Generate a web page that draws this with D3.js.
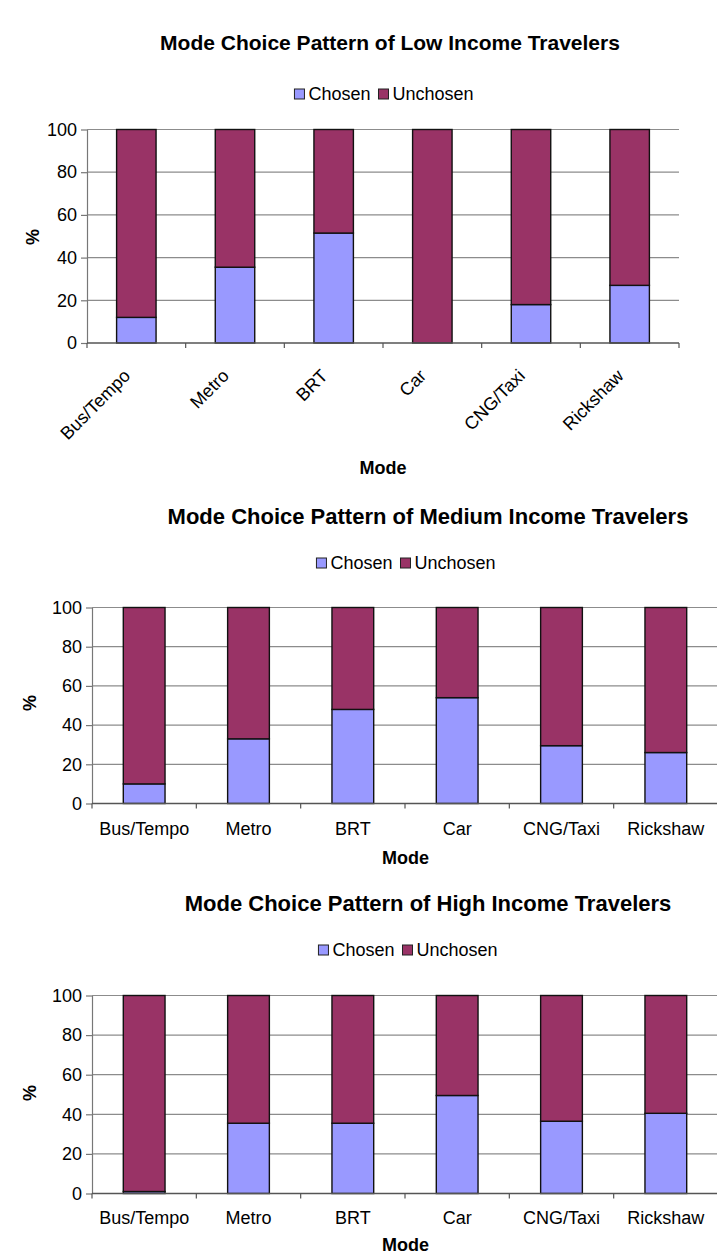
<!DOCTYPE html>
<html>
<head>
<meta charset="utf-8">
<script src="https://cdn.jsdelivr.net/npm/d3@7"></script>
<style>
  body { margin: 0; background: #fff; }
  text { font-family: "Liberation Sans", Arial, sans-serif; fill: #000; }
</style>
</head>
<body>
<svg id="charts"></svg>
<script>
// categories and values (percent of travelers)
const modes = ["Bus/Tempo", "Metro", "BRT", "Car", "CNG/Taxi", "Rickshaw"];
const seriesNames = ["Chosen", "Unchosen"];
const yTicks = [0, 20, 40, 60, 80, 100];

const lowChosen = [12, 35.5, 51.5, 0, 18, 27];
const lowUnchosen = [88, 64.5, 48.5, 100, 82, 73];
const mediumChosen = [10, 33, 48, 54, 29.5, 26];
const mediumUnchosen = [90, 67, 52, 46, 70.5, 74];
const highChosen = [1, 35.5, 35.5, 49.5, 36.5, 40.5];
const highUnchosen = [99, 64.5, 64.5, 50.5, 63.5, 59.5];

const titles = [
    "Mode Choice Pattern of Low Income Travelers",
    "Mode Choice Pattern of Medium Income Travelers",
    "Mode Choice Pattern of High Income Travelers"
];

const colors = { Chosen: "#9999ff", Unchosen: "#993366" };

const svg = d3.select("#charts")
    .attr("width", 717)
    .attr("height", 1258);

// layout of each of the three panels
const panels = [
    { title: titles[0], chosen: lowChosen, unchosen: lowUnchosen,
      left: 87, right: 679, top: 129.5, bottom: 343,
      titleX: 390, titleY: 43, titleSize: 21, legendX: 384, legendY: 94,
      rotate: true, modeY: 468, pctX: 33, pctY: 237 },
    { title: titles[1], chosen: mediumChosen, unchosen: mediumUnchosen,
      left: 92, right: 718, top: 607.5, bottom: 803.5,
      titleX: 428, titleY: 516, titleSize: 22, legendX: 406, legendY: 563,
      rotate: false, labelY: 829, modeY: 858, pctX: 30, pctY: 703 },
    { title: titles[2], chosen: highChosen, unchosen: highUnchosen,
      left: 92, right: 718, top: 995.5, bottom: 1193.5,
      titleX: 428, titleY: 903, titleSize: 22, legendX: 408, legendY: 950,
      rotate: false, labelY: 1218, modeY: 1245, pctX: 30, pctY: 1093 }
];

function drawPanel(p) {
    const g = svg.append("g");

    const x = d3.scaleBand()
        .domain(modes)
        .range([p.left, p.right])
        .paddingInner(0.6)
        .paddingOuter(0.3);

    const y = d3.scaleLinear()
        .domain([0, 100])
        .range([p.bottom, p.top]);

    // title
    g.append("text")
        .attr("x", p.titleX)
        .attr("y", p.titleY)
        .attr("dy", "0.35em")
        .attr("text-anchor", "middle")
        .style("font-weight", "bold")
        .style("font-size", p.titleSize + "px")
        .text(p.title);

    // legend, centered on legendX
    const leg = g.append("g");
    let cx = 0;
    seriesNames.forEach(name => {
        leg.append("rect")
            .attr("x", cx)
            .attr("y", -5)
            .attr("width", 10)
            .attr("height", 10)
            .attr("fill", colors[name])
            .attr("stroke", "#222")
            .attr("stroke-width", 1);
        const t = leg.append("text")
            .attr("x", cx + 14)
            .attr("y", 0)
            .attr("dy", "0.35em")
            .style("font-size", "18px")
            .text(name);
        cx += 14 + t.node().getComputedTextLength() + 8;
    });
    cx -= 8;
    leg.attr("transform", `translate(${p.legendX - cx / 2},${p.legendY})`);

    // grid lines
    g.append("g")
        .selectAll("line")
        .data(yTicks.filter(d => d > 0))
        .enter().append("line")
        .attr("x1", p.left)
        .attr("x2", p.right)
        .attr("y1", d => y(d))
        .attr("y2", d => y(d))
        .attr("stroke", "#8c8c8c")
        .attr("stroke-width", 1.2);

    // y axis
    const yAxis = g.append("g")
        .attr("transform", `translate(${p.left},0)`)
        .call(d3.axisLeft(y).tickValues(yTicks).tickSize(6).tickSizeOuter(0).tickPadding(4));
    yAxis.select(".domain").attr("stroke", "#777").attr("stroke-width", 1.2);
    yAxis.selectAll(".tick line").attr("stroke", "#777").attr("stroke-width", 1.2);
    yAxis.selectAll(".tick text")
        .style("font-size", "18px")
        .style("font-family", "'Liberation Sans', Arial, sans-serif")
        .attr("fill", "#000");

    // stacked bars
    const rows = modes.map((m, i) => ({ mode: m, Chosen: p.chosen[i], Unchosen: p.unchosen[i] }));
    const stacked = d3.stack().keys(seriesNames)(rows);

    g.append("g")
        .selectAll("g")
        .data(stacked)
        .enter().append("g")
        .attr("fill", d => colors[d.key])
        .selectAll("rect")
        .data(d => d.filter(s => s[1] - s[0] > 0))
        .enter().append("rect")
        .attr("x", d => x(d.data.mode))
        .attr("width", x.bandwidth())
        .attr("y", d => y(d[1]))
        .attr("height", d => y(d[0]) - y(d[1]))
        .attr("stroke", "#111")
        .attr("stroke-width", 1.4);

    // x axis line with ticks between categories
    g.append("line")
        .attr("x1", p.left)
        .attr("x2", p.right)
        .attr("y1", p.bottom)
        .attr("y2", p.bottom)
        .attr("stroke", "#555")
        .attr("stroke-width", 1.4);

    g.append("g")
        .selectAll("line")
        .data(d3.range(modes.length + 1))
        .enter().append("line")
        .attr("x1", i => p.left + i * x.step())
        .attr("x2", i => p.left + i * x.step())
        .attr("y1", p.bottom)
        .attr("y2", p.bottom + 5)
        .attr("stroke", "#555")
        .attr("stroke-width", 1.2);

    // category labels
    const labels = g.append("g")
        .selectAll("text")
        .data(modes)
        .enter().append("text")
        .style("font-size", "18px")
        .text(d => d);

    if (p.rotate) {
        labels
            .attr("text-anchor", "end")
            .attr("transform", d => `translate(${x(d) + x.bandwidth() / 2 - 5},${p.bottom + 34}) rotate(-45)`);
    } else {
        labels
            .attr("text-anchor", "middle")
            .attr("x", d => x(d) + x.bandwidth() / 2)
            .attr("y", p.labelY)
            .attr("dy", "0.35em");
    }

    // axis titles
    g.append("text")
        .attr("x", (p.left + Math.min(p.right, 717)) / 2 + (p.rotate ? 0 : 1))
        .attr("y", p.modeY)
        .attr("dy", "0.35em")
        .attr("text-anchor", "middle")
        .style("font-weight", "bold")
        .style("font-size", "18px")
        .text("Mode");

    g.append("text")
        .attr("transform", `translate(${p.pctX},${p.pctY}) rotate(-90)`)
        .attr("dy", "0.35em")
        .attr("text-anchor", "middle")
        .style("font-weight", "bold")
        .style("font-size", "18px")
        .text("%");
}

panels.forEach(drawPanel);
</script>
</body>
</html>
